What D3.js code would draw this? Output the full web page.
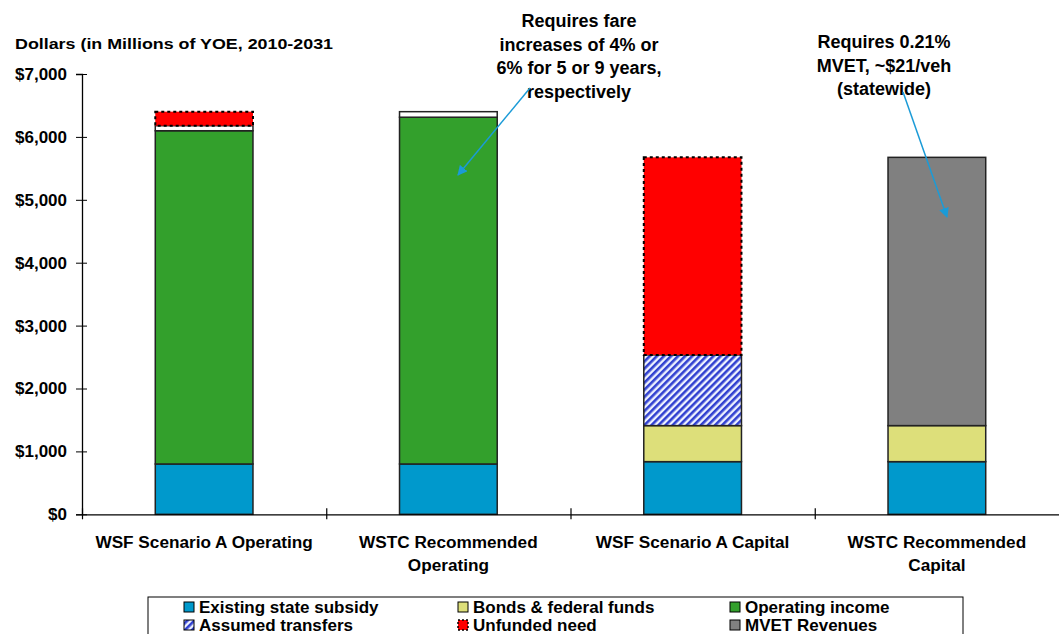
<!DOCTYPE html>
<html><head><meta charset="utf-8">
<script src="https://cdn.jsdelivr.net/npm/d3@7"></script>
<style>body{margin:0;background:#fff;} text{font-family:"Liberation Sans",Arial,sans-serif;font-weight:bold;fill:#000;}</style>
</head><body>
<svg id="chart" width="1059" height="634"></svg>
<script>
// ---- data ----
const categories = ["WSF Scenario A Operating", "WSTC Recommended Operating", "WSF Scenario A Capital", "WSTC Recommended Capital"];
const categoryLines = [["WSF Scenario A Operating"], ["WSTC Recommended", "Operating"], ["WSF Scenario A Capital"], ["WSTC Recommended", "Capital"]];
const existingSubsidy = [800, 800, 837, 837];
const bondsFederal   = [0, 0, 573, 573];
const operatingIncome = [5298, 5513, 0, 0];
const assumedTransfers = [0, 0, 1124, 0];
const mvetRevenues   = [0, 0, 0, 4265];
const otherUnlabeled = [80, 88, 0, 0];
const unfundedNeed   = [223, 0, 3141, 0];
const yTicks = [0, 1000, 2000, 3000, 4000, 5000, 6000, 7000];
const yTitle = "Dollars (in Millions of YOE, 2010-2031";
const note1 = ["Requires fare", "increases of 4% or", "6% for 5 or 9 years,", "respectively"];
const note2 = ["Requires 0.21%", "MVET, ~$21/veh", "(statewide)"];

const seriesDefs = [
  {key: "subsidy", name: "Existing state subsidy", values: existingSubsidy, fill: "#0099cc", legend: true},
  {key: "bonds", name: "Bonds & federal funds", values: bondsFederal, fill: "#dddf7a", legend: true},
  {key: "opinc", name: "Operating income", values: operatingIncome, fill: "#33a02c", legend: true},
  {key: "transfers", name: "Assumed transfers", values: assumedTransfers, fill: "url(#hatch)", legend: true},
  {key: "mvet", name: "MVET Revenues", values: mvetRevenues, fill: "#808080", legend: true},
  {key: "other", name: "Other", values: otherUnlabeled, fill: "#ffffff", legend: false},
  {key: "unfunded", name: "Unfunded need", values: unfundedNeed, fill: "#ff0000", legend: true, dashed: true}
];

const svg = d3.select("#chart");
const defs = svg.append("defs");
const pat = defs.append("pattern").attr("id", "hatch").attr("patternUnits", "userSpaceOnUse")
  .attr("width", 5).attr("height", 5).attr("patternTransform", "rotate(45)");
pat.append("rect").attr("width", 5).attr("height", 5).attr("fill", "#eef2ff");
pat.append("rect").attr("width", 2.6).attr("height", 5).attr("fill", "#3040d0");
defs.append("marker").attr("id", "arrow").attr("viewBox", "0 0 10 10").attr("refX", 9).attr("refY", 5)
  .attr("markerWidth", 10).attr("markerHeight", 10).attr("markerUnits", "userSpaceOnUse").attr("orient", "auto")
  .append("path").attr("d", "M0,0 L10,5 L0,10 z").attr("fill", "#1b9bd7");

const plotL = 82, plotR = 1059, plotT = 74, plotB = 514.3;
const x = d3.scaleBand().domain(categories).range([plotL, plotR]).paddingInner(0.6).paddingOuter(0.3);
const y = d3.scaleLinear().domain([0, 7000]).range([plotB, plotT]);

// stacked data
const rows = categories.map((c, i) => {
  const r = {cat: c};
  seriesDefs.forEach(s => r[s.key] = s.values[i]);
  return r;
});
const stack = d3.stack().keys(seriesDefs.map(s => s.key));
const stacked = stack(rows);

const barsG = svg.append("g");
stacked.forEach((layer, li) => {
  const s = seriesDefs[li];
  barsG.selectAll(null).data(layer.filter(d => d[1] - d[0] > 0)).enter().append("rect")
    .attr("x", d => x(d.data.cat))
    .attr("width", x.bandwidth())
    .attr("y", d => y(d[1]))
    .attr("height", d => y(d[0]) - y(d[1]))
    .attr("fill", s.fill)
    .attr("stroke", s.dashed ? "#000" : "#222")
    .attr("stroke-width", s.dashed ? 2 : 1.5)
    .attr("stroke-dasharray", s.dashed ? "3,3" : null);
});

// y axis
const yAxis = svg.append("g").attr("transform", `translate(${plotL},0)`)
  .call(d3.axisLeft(y).tickValues(yTicks).tickSize(6).tickPadding(9).tickFormat(d => "$" + d3.format(",")(d)));
yAxis.select(".domain").attr("stroke", "#000").attr("stroke-width", 1.3);
yAxis.selectAll(".tick line").attr("x1", 5).attr("stroke", "#000");
yAxis.selectAll(".tick text").style("font-size", "17px").style("font-family", "Liberation Sans, Arial, sans-serif").style("font-weight", "bold").attr("fill", "#000");

// x axis
const xAxis = svg.append("g").attr("transform", `translate(0,${plotB})`)
  .call(d3.axisBottom(x).tickSize(0).tickFormat(""));
xAxis.select(".domain").attr("stroke", "#000").attr("stroke-width", 1.3);
const step = x.step();
const bounds = d3.range(categories.length).map(i => plotL + i * step + 0.5);
xAxis.selectAll("line.bound").data(bounds).enter().append("line").attr("class", "bound")
  .attr("x1", d => d).attr("x2", d => d).attr("y1", -6).attr("y2", 5).attr("stroke", "#000").attr("stroke-width", 1.2);

// category labels
categories.forEach((c, i) => {
  const cx = x(c) + x.bandwidth() / 2;
  categoryLines[i].forEach((ln, j) => {
    svg.append("text").attr("x", cx).attr("y", 548 + j * 23).attr("text-anchor", "middle")
      .style("font-size", "17.2px").text(ln);
  });
});

// y title
svg.append("text").attr("x", 15).attr("y", 49).style("font-size", "15.5px")
  .attr("textLength", 318).attr("lengthAdjust", "spacingAndGlyphs").text(yTitle);

// annotations
note1.forEach((ln, j) => svg.append("text").attr("x", 579).attr("y", 27 + j * 23.5).attr("text-anchor", "middle").style("font-size", "18px").text(ln));
note2.forEach((ln, j) => svg.append("text").attr("x", 884).attr("y", 48 + j * 23.5).attr("text-anchor", "middle").style("font-size", "18px").text(ln));
svg.append("line").attr("x1", 530).attr("y1", 88).attr("x2", 458).attr("y2", 175)
  .attr("stroke", "#1b9bd7").attr("stroke-width", 1.5).attr("marker-end", "url(#arrow)");
svg.append("line").attr("x1", 903).attr("y1", 92).attr("x2", 947).attr("y2", 217)
  .attr("stroke", "#1b9bd7").attr("stroke-width", 1.5).attr("marker-end", "url(#arrow)");

// legend
const lg = svg.append("g");
lg.append("rect").attr("x", 148).attr("y", 597).attr("width", 815).attr("height", 45)
  .attr("fill", "#fff").attr("stroke", "#000").attr("stroke-width", 1);
const legendOrder = ["subsidy", "bonds", "opinc", "transfers", "unfunded", "mvet"];
const colX = [184, 458, 730];
legendOrder.forEach((k, i) => {
  const s = seriesDefs.find(d => d.key === k);
  const cx = colX[i % 3], cy = i < 3 ? 607 : 625;
  lg.append("rect").attr("x", cx).attr("y", cy - 5).attr("width", 10).attr("height", 10)
    .attr("fill", s.fill).attr("stroke", "#000").attr("stroke-width", s.dashed ? 1.5 : 1)
    .attr("stroke-dasharray", s.dashed ? "2,2" : null);
  lg.append("text").attr("x", cx + 15).attr("y", cy + 6).style("font-size", "17px").text(s.name);
});
</script>
</body></html>
